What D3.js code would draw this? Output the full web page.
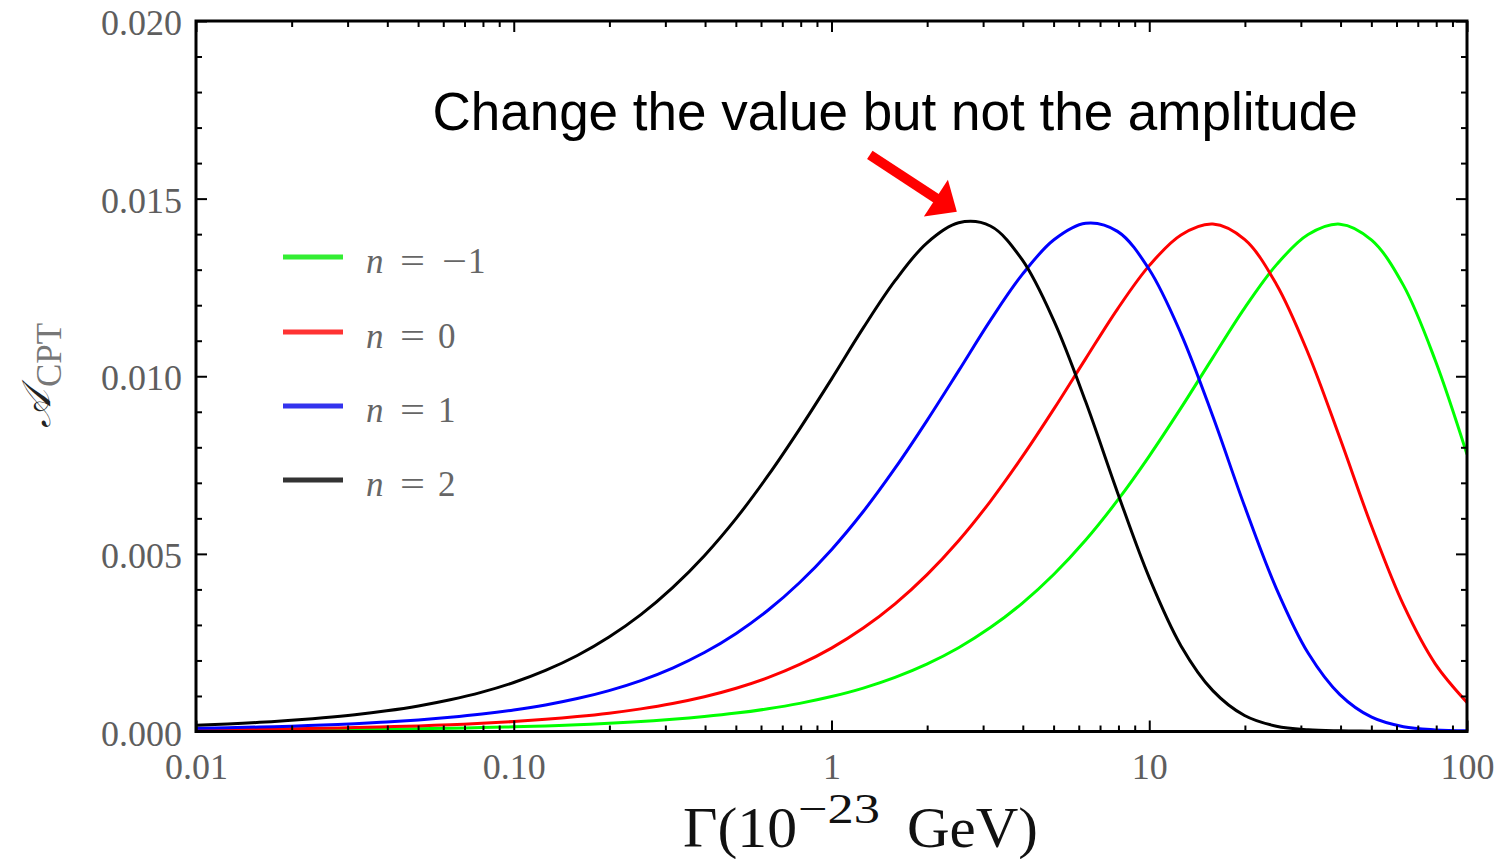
<!DOCTYPE html>
<html>
<head>
<meta charset="utf-8">
<script src="https://cdn.jsdelivr.net/npm/d3@7"></script>
<style>
  html, body { margin: 0; padding: 0; background: #fff; }
  svg { display: block; }
</style>
</head>
<body>
<svg id="chart" width="1512" height="859"></svg>
<script>
// Decay width grid, Γ in units of 1e-23 GeV (0.1-decade steps)
const gamma = [
  0.01, 0.01259, 0.01585, 0.01995, 0.02512, 0.03162, 0.03981, 0.05012, 0.0631, 0.07943,
  0.1, 0.1259, 0.1585, 0.1995, 0.2512, 0.3162, 0.3981, 0.5012, 0.631, 0.7943,
  1, 1.259, 1.585, 1.995, 2.512, 3.162, 3.981, 5.012, 6.31, 7.943,
  10, 12.59, 15.85, 19.95, 25.12, 31.62, 39.81, 50.12, 63.1, 79.43,
  100
];

// A_CPT for each energy-dependence index n
const acptNm1 = [
  0.000022, 0.000026, 0.000031, 0.000037, 0.000044, 0.000053, 0.000064, 0.000077, 0.000092, 0.00011,
  0.000132, 0.000158, 0.000191, 0.000231, 0.000282, 0.000344, 0.000422, 0.000518, 0.00064, 0.000792,
  0.000983, 0.001222, 0.001523, 0.001896, 0.002358, 0.002925, 0.003609, 0.004428, 0.005391, 0.006504,
  0.007754, 0.009108, 0.010525, 0.011919, 0.013135, 0.013989, 0.014282, 0.013831, 0.012558, 0.010450,
  0.007800
];
const acptN0 = [
  0.000044, 0.000053, 0.000064, 0.000077, 0.000092, 0.00011, 0.000132, 0.000158, 0.00019, 0.00023,
  0.00028, 0.000342, 0.00042, 0.000516, 0.000637, 0.000788, 0.000978, 0.001217, 0.001516, 0.001888,
  0.002348, 0.002912, 0.003594, 0.00441, 0.00537, 0.00648, 0.007728, 0.00908, 0.010496, 0.011892,
  0.013114, 0.013978, 0.014284, 0.01385, 0.012592, 0.010648, 0.00826, 0.00577, 0.003562, 0.001906,
  0.00082
];
const acptN1 = [
  0.000088, 0.000105, 0.000126, 0.000151, 0.000181, 0.000219, 0.000267, 0.000325, 0.000399, 0.00049,
  0.000604, 0.000747, 0.000927, 0.001152, 0.001434, 0.001787, 0.002223, 0.002761, 0.003412, 0.004194,
  0.005118, 0.006192, 0.007411, 0.008744, 0.01015, 0.011573, 0.01286, 0.013841, 0.014306, 0.014078,
  0.013005, 0.011195, 0.008872, 0.006346, 0.004023, 0.002208, 0.001038, 0.000402, 0.000134, 0.000045,
  0.000018
];
const acptN2 = [
  0.000175, 0.000212, 0.000258, 0.000314, 0.000385, 0.000472, 0.000582, 0.000719, 0.000892, 0.001108,
  0.00138, 0.00172, 0.00214, 0.00266, 0.00329, 0.00405, 0.00495, 0.006, 0.0072, 0.00852,
  0.00992, 0.01136, 0.01269, 0.01375, 0.01432, 0.01423, 0.01328, 0.01156, 0.00928, 0.00673,
  0.00433, 0.00241, 0.00115, 0.00045, 0.00015, 0.00005, 0.00002, 0.00001, 0, 0,
  0
];

const nSigns = ["−", "", "", ""];
const nDigits = ["1", "0", "1", "2"];
const xTickValues = [0.01, 0.1, 1, 10, 100];
const xTickLabels = ["0.01", "0.10", "1", "10", "100"];
const yTickValues = [0, 0.005, 0.010, 0.015, 0.020];
const yTickLabels = ["0.000", "0.005", "0.010", "0.015", "0.020"];
const noteText = "Change the value but not the amplitude";
// annotation arrow, in data coordinates (Γ, A_CPT)
const arrowFrom = [1.32, 0.01623];
const arrowTo = [2.48, 0.01463];
const notePos = [1.585, 0.01693];

// ---- styles ----
const lineColors = ["#00ff00", "#ff0000", "#0000ff", "#000000"];
const legendColors = ["#33ee33", "#ff3333", "#3333ee", "#333333"];
const serif = "'Liberation Serif', 'DejaVu Serif', serif";
const labelGray = "#5e5e5e";

const series = [acptNm1, acptN0, acptN1, acptN2];

const svg = d3.select("#chart");
const plotL = 196, plotR = 1467, plotT = 21, plotB = 731.5;

const x = d3.scaleLog().domain([0.01, 100]).range([plotL, plotR]);
const y = d3.scaleLinear().domain([0, 0.02]).range([plotB, plotT]);

// clip for curves
svg.append("defs").append("clipPath").attr("id", "plotClip")
  .append("rect").attr("x", plotL).attr("y", plotT - 2)
  .attr("width", plotR - plotL).attr("height", plotB - plotT + 2);

// curves
const line = d3.line()
  .x(d => x(d[0]))
  .y(d => y(d[1]))
  .curve(d3.curveCatmullRom.alpha(0.5));

const curves = svg.append("g").attr("clip-path", "url(#plotClip)");
series.forEach((vals, i) => {
  curves.append("path")
    .datum(gamma.map((g, k) => [g, vals[k]]))
    .attr("d", line)
    .attr("fill", "none")
    .attr("stroke", lineColors[i])
    .attr("stroke-width", 3);
});

// minor tick values
const xMinor = [];
[0.01, 0.1, 1, 10].forEach(dec => { for (let m = 2; m <= 9; m++) xMinor.push(+(m * dec).toPrecision(3)); });
const yMinor = d3.range(0, 21).map(i => +(i * 0.001).toFixed(3)).filter(v => Math.round(v * 1000) % 5 !== 0);

function styleAxis(g) {
  g.select(".domain").remove();
  g.selectAll(".tick line").attr("stroke", "#000").attr("stroke-width", 2);
  g.selectAll(".tick text")
    .attr("font-family", serif)
    .attr("font-size", 36)
    .attr("fill", labelGray);
}

// bottom
svg.append("g").attr("transform", `translate(0,${plotB})`)
  .call(d3.axisBottom(x).tickValues(xTickValues).tickSize(-11).tickPadding(22)
    .tickFormat((d, i) => xTickLabels[i]))
  .call(styleAxis);
svg.append("g").attr("transform", `translate(0,${plotB})`)
  .call(d3.axisBottom(x).tickValues(xMinor).tickSize(-6).tickFormat(""))
  .call(styleAxis);
// top
svg.append("g").attr("transform", `translate(0,${plotT})`)
  .call(d3.axisTop(x).tickValues(xTickValues).tickSize(-11).tickFormat(""))
  .call(styleAxis);
svg.append("g").attr("transform", `translate(0,${plotT})`)
  .call(d3.axisTop(x).tickValues(xMinor).tickSize(-6).tickFormat(""))
  .call(styleAxis);
// left
svg.append("g").attr("transform", `translate(${plotL},0)`)
  .call(d3.axisLeft(y).tickValues(yTickValues).tickSize(-11).tickPadding(14)
    .tickFormat((d, i) => yTickLabels[i]))
  .call(styleAxis)
  .call(g => g.selectAll(".tick text").attr("dy", "0.38em"));
svg.append("g").attr("transform", `translate(${plotL},0)`)
  .call(d3.axisLeft(y).tickValues(yMinor).tickSize(-6).tickFormat(""))
  .call(styleAxis);
// right
svg.append("g").attr("transform", `translate(${plotR},0)`)
  .call(d3.axisRight(y).tickValues(yTickValues).tickSize(-11).tickFormat(""))
  .call(styleAxis);
svg.append("g").attr("transform", `translate(${plotR},0)`)
  .call(d3.axisRight(y).tickValues(yMinor).tickSize(-6).tickFormat(""))
  .call(styleAxis);

// frame
svg.append("rect")
  .attr("x", plotL).attr("y", plotT)
  .attr("width", plotR - plotL).attr("height", plotB - plotT)
  .attr("fill", "none").attr("stroke", "#000").attr("stroke-width", 3);

// x-axis title: Γ(10^−23 GeV)
const xTitle = svg.append("g")
  .attr("font-family", serif).attr("fill", "#111");
xTitle.append("text").attr("x", 683).attr("y", 847).attr("font-size", 58)
  .attr("textLength", 114).attr("lengthAdjust", "spacingAndGlyphs").text("Γ(10");
xTitle.append("text").attr("x", 798).attr("y", 823).attr("font-size", 42)
  .attr("textLength", 82).attr("lengthAdjust", "spacingAndGlyphs").text("−23");
xTitle.append("text").attr("x", 907).attr("y", 847).attr("font-size", 58)
  .attr("textLength", 131).attr("lengthAdjust", "spacingAndGlyphs").text("GeV)");

// y-axis title
const yt = svg.append("text")
  .attr("transform", "translate(50,428) rotate(-90)")
  .attr("font-family", serif).attr("fill", "#222");
yt.append("tspan").attr("font-size", 40).attr("font-style", "italic").text("𝒜");
yt.append("tspan").attr("font-size", 35).attr("dy", 11).attr("dx", 3).attr("fill", "#777").text("CPT");

// legend
const legendY = [257, 332, 406, 480];
const legend = svg.append("g");
nDigits.forEach((dgt, i) => {
  const ly = legendY[i];
  legend.append("line")
    .attr("x1", 283).attr("x2", 343).attr("y1", ly).attr("y2", ly)
    .attr("stroke", legendColors[i]).attr("stroke-width", 5);
  const g = legend.append("g")
    .attr("font-family", serif).attr("font-size", 35).attr("fill", "#666");
  const base = ly + 16;
  g.append("text").attr("x", 366).attr("y", base).attr("font-style", "italic").text("n");
  g.append("text").attr("x", 400).attr("y", base)
    .attr("textLength", 25).attr("lengthAdjust", "spacingAndGlyphs").text("=");
  if (nSigns[i]) {
    g.append("text").attr("x", 442).attr("y", base)
      .attr("textLength", 25).attr("lengthAdjust", "spacingAndGlyphs").text(nSigns[i]);
    g.append("text").attr("x", 468).attr("y", base).text(dgt);
  } else {
    g.append("text").attr("x", 438).attr("y", base).text(dgt);
  }
});

// annotation
svg.append("text")
  .attr("x", x(notePos[0])).attr("y", y(notePos[1]))
  .attr("text-anchor", "middle")
  .attr("font-family", "'Liberation Sans', Arial, sans-serif")
  .attr("font-size", 53).attr("fill", "#000")
  .text(noteText);

const ax0 = x(arrowFrom[0]), ay0 = y(arrowFrom[1]);
const ax1 = x(arrowTo[0]), ay1 = y(arrowTo[1]);
const len = Math.hypot(ax1 - ax0, ay1 - ay0);
const ux = (ax1 - ax0) / len, uy = (ay1 - ay0) / len;
const headLen = 25, headHalf = 22;
const bx = ax1 - ux * headLen, by = ay1 - uy * headLen;
svg.append("line")
  .attr("x1", ax0).attr("y1", ay0).attr("x2", bx + ux * 2).attr("y2", by + uy * 2)
  .attr("stroke", "#ff0000").attr("stroke-width", 10);
svg.append("polygon")
  .attr("points", [
    [ax1, ay1],
    [bx - uy * headHalf, by + ux * headHalf],
    [bx + uy * headHalf, by - ux * headHalf]
  ].map(p => p.join(",")).join(" "))
  .attr("fill", "#ff0000");
</script>
</body>
</html>
